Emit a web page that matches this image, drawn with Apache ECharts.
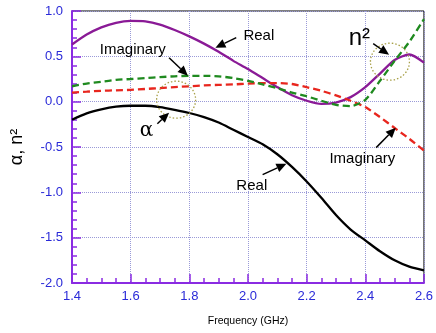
<!DOCTYPE html>
<html><head><meta charset="utf-8">
<script src="https://cdn.jsdelivr.net/npm/echarts@6/dist/echarts.min.js"></script>
<style>html,body{margin:0;padding:0;background:#fff}#c{width:436px;height:333px}</style>
</head><body><div id="c"></div>
<script>
const freq = [1.40,1.45,1.50,1.55,1.60,1.65,1.70,1.75,1.80,1.85,1.90,1.95,2.00,2.05,2.10,2.15,2.20,2.25,2.30,2.35,2.40,2.45,2.50,2.55,2.60];
const n2Real = [0.63,0.74,0.82,0.87,0.89,0.885,0.85,0.79,0.72,0.64,0.55,0.45,0.36,0.26,0.16,0.07,0.01,-0.025,-0.01,0.05,0.16,0.31,0.46,0.52,0.43];
const n2Imag = [0.17,0.20,0.22,0.24,0.25,0.26,0.27,0.28,0.285,0.285,0.28,0.26,0.23,0.19,0.15,0.10,0.06,0.01,-0.035,-0.05,0.02,0.23,0.45,0.66,0.91];
const alphaImag = [0.10,0.11,0.12,0.125,0.13,0.14,0.15,0.16,0.17,0.18,0.185,0.19,0.20,0.205,0.205,0.195,0.16,0.12,0.07,0.01,-0.06,-0.17,-0.29,-0.41,-0.54];
const alphaReal = [-0.20,-0.13,-0.085,-0.055,-0.045,-0.045,-0.06,-0.09,-0.125,-0.17,-0.23,-0.31,-0.39,-0.47,-0.58,-0.72,-0.88,-1.06,-1.25,-1.41,-1.53,-1.65,-1.75,-1.82,-1.86];
const xTicks = {min:1.4, max:2.6, step:0.2};
const yTicks = {min:-2.0, max:1.0, step:0.5};

// annotations in data coordinates
const labels = [
  {text:'Real', at:[2.037,0.728], size:15},
  {text:'Imaginary', at:[1.607,0.573], size:15},
  {text:'α', at:[1.654,-0.320], size:20, font:'"DejaVu Serif", serif'},
  {text:'n²', at:[2.380,0.695], size:24},
  {text:'Imaginary', at:[2.390,-0.628], size:15},
  {text:'Real', at:[2.013,-0.926], size:15}
];
const arrows = [
  [[1.960,0.706],[1.889,0.595]],
  [[1.731,0.485],[1.795,0.287]],
  [[1.691,-0.243],[1.731,-0.121]],
  [[2.427,0.639],[2.481,0.518]],
  [[2.437,-0.507],[2.504,-0.287]],
  [[2.050,-0.805],[2.131,-0.684]]
];
const circles = [[1.755,0.022],[2.484,0.441]];

const pair = a => freq.map((f,i)=>[f,a[i]]);
const chart = echarts.init(document.getElementById('c'));
const axisCol = '#8a2be2', labCol = '#2a2ad8';
const splitStyle = {show:true, lineStyle:{color:'#9a9ad8', type:'dotted', width:1}};
function mk(name,data,color,dashed){
  return {name, type:'line', data:pair(data), smooth:0.25, showSymbol:false,
    lineStyle:{color, width:2.3, type: dashed?[7,4]:'solid'}, z: dashed?3:2};
}
chart.setOption({
  animation:false,
  grid:{left:71.5, right:8, top:11, bottom:50, show:true, borderColor:'#000', borderWidth:1},
  xAxis:{type:'value', min:xTicks.min, max:xTicks.max, interval:xTicks.step,
    name:'Frequency (GHz)', nameLocation:'middle', nameGap:33,
    nameTextStyle:{fontSize:10.5, color:'#000', fontFamily:'Liberation Sans'},
    axisLine:{show:true, onZero:false, lineStyle:{color:axisCol, width:2}},
    axisTick:{show:true, inside:true, length:9, lineStyle:{color:axisCol, width:1.5}},
    minorTick:{show:true, splitNumber:4, length:5, lineStyle:{color:axisCol, width:1.5}},
    axisLabel:{color:labCol, fontSize:13, fontFamily:'Liberation Sans', margin:7, formatter:v=>v.toFixed(1)},
    splitLine:splitStyle},
  yAxis:{type:'value', min:yTicks.min, max:yTicks.max, interval:yTicks.step,
    name:'α, n²', nameLocation:'middle', nameGap:46, nameRotate:90,
    nameTextStyle:{fontSize:18, color:'#000', fontFamily:'Liberation Sans'},
    axisLine:{show:true, onZero:false, lineStyle:{color:axisCol, width:2}},
    axisTick:{show:true, inside:true, length:9, lineStyle:{color:axisCol, width:1.5}},
    minorTick:{show:true, splitNumber:5, length:5, lineStyle:{color:axisCol, width:1.5}},
    axisLabel:{color:labCol, fontSize:13, fontFamily:'Liberation Sans', margin:9, formatter:v=>v.toFixed(1)},
    splitLine:splitStyle},
  series:[
    mk('alphaReal',alphaReal,'#000000',false),
    mk('n2Real',n2Real,'#8a1a96',false),
    mk('alphaImag',alphaImag,'#e8261e',true),
    mk('n2Imag',n2Imag,'#1f8a1f',true)
  ]
});
const P = p => chart.convertToPixel({gridIndex:0}, p);
const g = [];
labels.forEach(l=>{
  const p = P(l.at);
  g.push({type:'text', x:p[0], y:p[1], z:10, style:{text:l.text, fill:'#000', fontSize:l.size,
    fontFamily:l.font||'Liberation Sans', align:'center', verticalAlign:'middle'}});
});
arrows.forEach(a=>{
  const s = P(a[0]), e = P(a[1]);
  const dx=e[0]-s[0], dy=e[1]-s[1], L=Math.hypot(dx,dy), ux=dx/L, uy=dy/L;
  const hl=10, hw=4.5;
  const bx=e[0]-ux*hl, by=e[1]-uy*hl;
  g.push({type:'line', z:10, shape:{x1:s[0],y1:s[1],x2:bx,y2:by}, style:{stroke:'#000', lineWidth:1.5}});
  g.push({type:'polygon', z:10, shape:{points:[[e[0],e[1]],[bx-uy*hw,by+ux*hw],[bx+uy*hw,by-ux*hw]]}, style:{fill:'#000'}});
});
circles.forEach(c=>{
  const p = P(c);
  g.push({type:'ellipse', z:9, shape:{cx:p[0], cy:p[1], rx:19.5, ry:18.5}, style:{fill:null, stroke:'#a8a048', lineWidth:1.3, lineDash:[1.5,2]}});
});
chart.setOption({graphic:g});
</script></body></html>
